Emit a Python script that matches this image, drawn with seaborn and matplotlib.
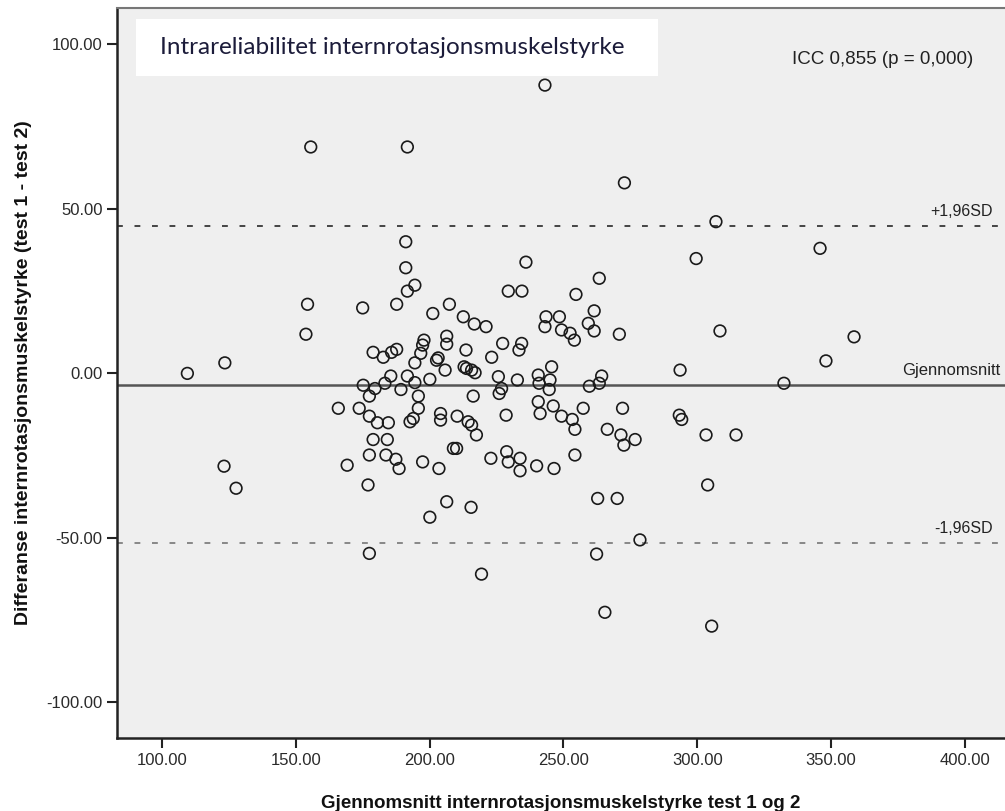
import matplotlib
matplotlib.use("Agg")
import matplotlib.pyplot as plt
import matplotlib.transforms as mtransforms
import seaborn as sns
import pandas as pd

# ---- data ----
mean_x = [243.1, 191.7, 155.6, 272.8, 307.0, 345.9, 299.6, 191.1, 191.1, 194.5,
          191.7, 236.0, 229.4, 234.5, 263.4, 254.7, 175.0, 154.4, 187.7, 207.4,
          201.2, 212.6, 216.7, 221.1, 243.5, 243.1, 248.5, 249.3, 252.5, 254.1,
          261.5, 259.3, 261.5, 270.9, 308.5, 358.6, 153.8,
          178.9, 182.7, 185.8, 187.7, 197.9, 197.4, 196.7, 194.5, 202.6, 203.2,
          206.4, 206.4, 205.8, 213.6, 212.9, 213.8, 215.7, 217.0, 223.2, 227.3,
          234.4, 233.4, 245.6, 348.1, 293.6, 109.5, 123.5,
          225.7, 226.9, 226.0, 232.8, 240.6, 240.9, 245.0, 244.7, 259.7, 263.4,
          264.3, 332.4, 175.2, 177.5, 179.6, 183.3, 185.5, 189.3, 191.7, 194.5,
          195.8, 200.1, 216.3,
          165.9, 173.7, 195.8, 240.6, 246.2, 257.4, 272.1, 228.6, 293.3, 294.2,
          303.3, 314.5,
          177.5, 180.5, 184.6, 192.7, 193.9, 204.1, 204.1, 210.3, 214.4, 215.7,
          217.5, 241.3, 249.3, 253.3, 254.3, 266.4, 271.5, 272.6, 276.8, 178.9,
          184.2, 177.5, 183.7, 187.4, 188.6, 169.2, 177.0, 197.4, 203.5, 208.9,
          210.1, 222.9, 228.8, 229.4, 233.8, 233.8, 240.0, 246.5, 254.3, 123.2,
          127.7, 303.9,
          200.1, 206.4, 215.5, 262.8, 270.1, 177.5, 219.4, 262.4, 278.6, 265.5,
          305.4]
diff_y = [87.6, 68.8, 68.8, 57.9, 46.1, 38.0, 34.9, 40.0, 32.1, 26.8,
          25.0, 33.8, 25.0, 25.0, 28.9, 24.0, 19.9, 21.0, 21.0, 21.0,
          18.2, 17.2, 15.0, 14.2, 17.2, 14.2, 17.2, 13.2, 12.2, 10.1,
          19.0, 15.2, 12.9, 11.9, 12.9, 11.1, 11.9,
          6.4, 4.9, 6.4, 7.3, 10.1, 8.6, 6.1, 3.2, 4.0, 4.7,
          11.3, 8.9, 1.0, 7.1, 2.0, 1.5, 1.0, 0.2, 4.9, 9.1,
          9.1, 7.1, 2.0, 3.8, 1.0, 0.0, 3.2,
          -1.0, -4.6, -6.1, -2.0, -0.5, -3.0, -2.0, -4.9, -3.9, -3.0,
          -0.8, -3.0, -3.6, -6.9, -4.6, -3.0, -0.8, -4.9, -0.8, -2.8,
          -6.9, -1.8, -6.9,
          -10.6, -10.6, -10.6, -8.6, -9.9, -10.6, -10.6, -12.7, -12.7, -14.0,
          -18.7, -18.7,
          -13.0, -15.0, -15.0, -14.7, -13.7, -12.2, -14.2, -13.0, -14.7, -15.7,
          -18.7, -12.2, -13.0, -14.0, -17.0, -17.0, -18.7, -21.8, -20.1, -20.1,
          -20.1, -24.8, -24.8, -26.1, -28.9, -27.9, -33.9, -26.9, -28.9, -22.8,
          -22.8, -25.8, -23.8, -26.9, -25.8, -29.6, -28.1, -28.9, -24.8, -28.2,
          -34.9, -33.9,
          -43.7, -39.0, -40.7, -38.0, -38.0, -54.7, -61.0, -54.9, -50.6, -72.6,
          -76.8]

mean_diff = -3.55
upper_loa = 44.7
lower_loa = -51.6

x_ticks = [100, 150, 200, 250, 300, 350, 400]
y_ticks = [-100, -50, 0, 50, 100]

title_text = "Intrareliabilitet internrotasjonsmuskelstyrke"
icc_text = "ICC 0,855 (p = 0,000)"
x_label = "Gjennomsnitt internrotasjonsmuskelstyrke test 1 og 2"
y_label = "Differanse internrotasjonsmuskelstyrke (test 1 - test 2)"

df = pd.DataFrame({"mean": mean_x, "diff": diff_y})

sns.set_theme(style="white")
plt.rcParams["font.family"] = ["Liberation Sans", "DejaVu Sans"]

fig = plt.figure(figsize=(10.05, 8.11), dpi=100)
ax = fig.add_axes([0.1164, 0.090, 0.8836, 0.900])
ax.set_facecolor("#efefef")

sns.scatterplot(data=df, x="mean", y="diff", ax=ax, marker="o", s=70,
                facecolor="none", edgecolor="#1a1a1a", linewidth=1.2, zorder=3)

ax.axhline(mean_diff, color="#555555", lw=1.8, zorder=2)
ax.axhline(upper_loa, color="#444444", lw=1.4, ls=(0, (3, 6)), zorder=2)
ax.axhline(lower_loa, color="#888888", lw=1.4, ls=(0, (3, 6)), zorder=2)

ax.set_xlim(83.2, 415.0)
ax.set_ylim(-110.8, 111.0)
ax.set_xticks(x_ticks)
ax.set_xticklabels([f"{v:.2f}" for v in x_ticks])
ax.set_yticks(y_ticks)
ax.set_yticklabels([f"{v:.2f}" for v in y_ticks])
ax.tick_params(axis="both", direction="out", length=7, width=1.5,
               color="#222222", labelsize=12, labelcolor="#2a2a2a",
               bottom=True, left=True)

for side in ["left", "bottom"]:
    ax.spines[side].set_color("#222222")
    ax.spines[side].set_linewidth(1.8)
ax.spines["top"].set_color("#777777")
ax.spines["top"].set_linewidth(1.5)
ax.spines["right"].set_visible(False)

ax.set_xlabel(x_label, fontsize=13.5, fontweight="bold", color="#111111", labelpad=20)
ax.set_ylabel(y_label, fontsize=14, fontweight="bold", color="#111111", labelpad=10)

trans = mtransforms.blended_transform_factory(ax.transAxes, ax.transData)
ax.text(0.9865, upper_loa + 2.3, "+1,96SD", transform=trans, ha="right",
        va="bottom", fontsize=11.5, color="#222222")
ax.text(0.9945, mean_diff + 2.3, "Gjennomsnitt", transform=trans, ha="right",
        va="bottom", fontsize=12, color="#222222")
ax.text(0.9865, lower_loa + 2.3, "-1,96SD", transform=trans, ha="right",
        va="bottom", fontsize=11.5, color="#222222")

# title box
fig.patches.append(plt.Rectangle((136 / 1005, 1 - 76 / 811), (658 - 136) / 1005,
                                 (76 - 19) / 811, transform=fig.transFigure,
                                 facecolor="white", edgecolor="none", zorder=5))
fig.text(160 / 1005, 1 - 47 / 811, title_text, ha="left", va="center",
         fontsize=17.5, color="#1c1c3a", family=["Lato", "DejaVu Sans"], zorder=6)
fig.text(973 / 1005, 1 - 60 / 811, icc_text, ha="right", va="center",
         fontsize=13.5, color="#222222")

fig.savefig("out.png", dpi=100)
